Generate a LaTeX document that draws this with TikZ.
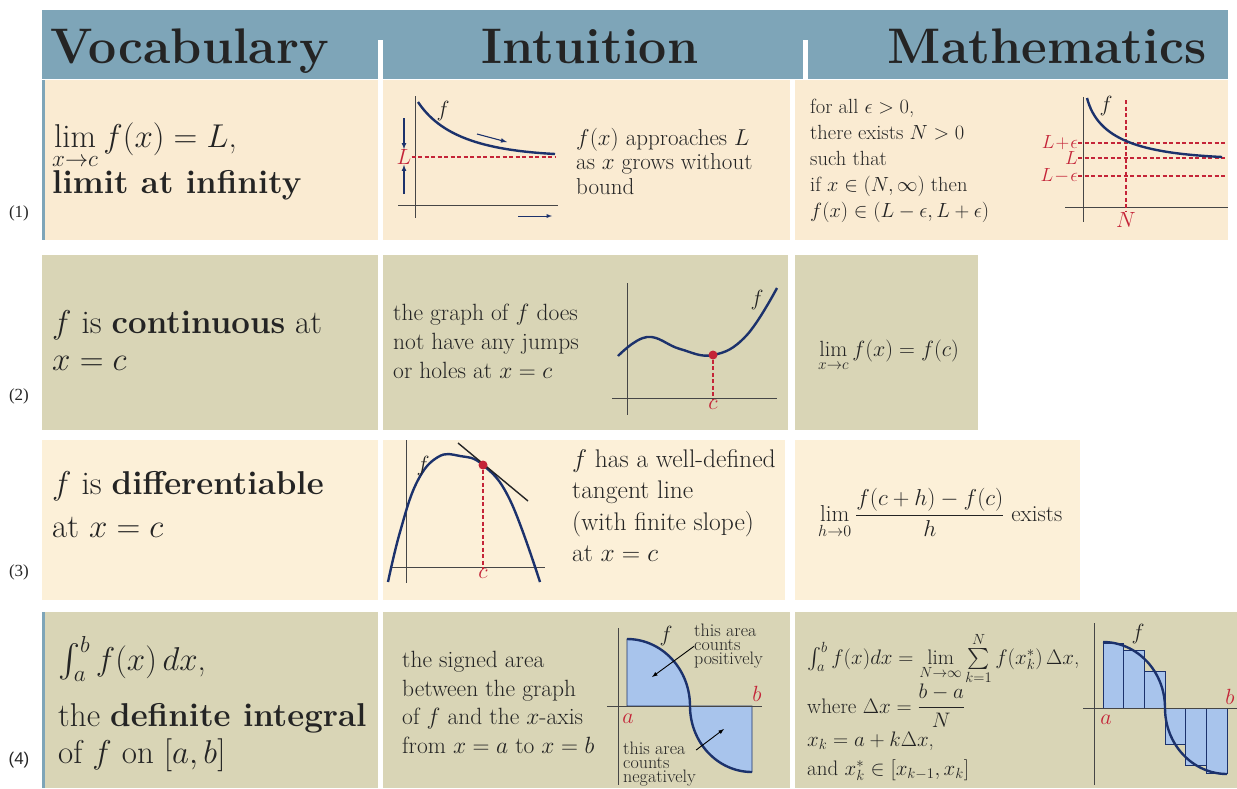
\RequirePackage{fix-cm}
\documentclass[tikz,border=0pt]{standalone}
\usepackage{amsmath,amssymb}
\usepackage{fontspec}
\newfontfamily\timesfont{Liberation Serif}
\newfontfamily\arialfont{Liberation Sans}
\usepackage{xcolor}
\usepackage{tikz}
\usetikzlibrary{calc}

\definecolor{headblue}{RGB}{126,165,184}
\definecolor{peach}{RGB}{250,235,210}
\definecolor{creamy}{RGB}{252,240,216}
\definecolor{khaki}{RGB}{217,213,182}
\definecolor{textink}{RGB}{36,36,36}
\definecolor{axisgray}{RGB}{70,70,70}
\definecolor{curveblue}{RGB}{28,50,108}
\definecolor{markred}{RGB}{196,36,56}
\definecolor{areablue}{RGB}{168,196,236}

\begin{document}
\begin{tikzpicture}[
    x=1pt, y=-1pt,
    >=latex,
    line width=0.45pt,
    every node/.style={inner sep=0pt, text=textink, font=\rmfamily\fontsize{22}{28}\selectfont},
    headtext/.style={anchor=base, font=\rmfamily\bfseries\fontsize{50}{56}\selectfont},
    vocabtext/.style={anchor=base west, font=\rmfamily\fontsize{33}{38}\selectfont},
    bodytext/.style={anchor=north west, align=left},
    rownum/.style={font=\timesfont\fontsize{17}{20}\selectfont},
    axis/.style={draw=axisgray, line width=1pt},
    graph/.style={draw=curveblue, line width=2.4pt},
    reddash/.style={draw=markred, dash pattern=on 4pt off 2.5pt, line width=1.3pt},
    redlabel/.style={text=markred},
    hint/.style={->, draw=curveblue, line width=1.1pt},
    note/.style={anchor=north west, align=left, font=\rmfamily\fontsize{18}{14}\selectfont},
    area/.style={fill=areablue, draw=curveblue, line width=0.7pt},
    dot/.style={circle, fill=markred, minimum size=9pt}
  ]
    \useasboundingbox (0,0) rectangle (1237,788);

    % header band
    \fill[headblue] (42,10) rectangle (1228,79);
    \fill[white] (378,40) rectangle (383,79);
    \fill[white] (803,40) rectangle (808,79);
    \node[headtext] (hvocab) at (190,63) {Vocabulary};
    \node[headtext] (hintu) at (590,63) {Intuition};
    \node[headtext] (hmath) at (1047,63) {Mathematics};

    % cells
    \fill[peach] (42,80) rectangle (378,240);
    \fill[peach] (383,80) rectangle (790,240);
    \fill[peach] (795,80) rectangle (1228,240);
    \fill[headblue] (42,80) rectangle (45,240);
    \fill[khaki] (42,255) rectangle (378,430);
    \fill[khaki] (383,255) rectangle (788,430);
    \fill[khaki] (795,255) rectangle (978,430);
    \fill[creamy] (42,440) rectangle (378,600);
    \fill[creamy] (383,440) rectangle (785,600);
    \fill[creamy] (795,440) rectangle (1080,600);
    \fill[khaki] (42,612) rectangle (378,788);
    \fill[khaki] (383,612) rectangle (790,788);
    \fill[khaki] (795,612) rectangle (1237,788);
    \fill[headblue] (42,612) rectangle (45,788);

    % row numbers
    \node[rownum] (num1) at (19,213) {(1)};
    \node[rownum] (num2) at (19,396) {(2)};
    \node[rownum] (num3) at (19,572) {(3)};
    \node[rownum, font=\arialfont\fontsize{17}{20}\selectfont] (num4) at (19,760) {(4)};

    % (1) limit at infinity
    \node[vocabtext] (limdef) at (52,147) {$\lim\limits_{x\to c} f(x) = L$,};
    \node[vocabtext] (limname) at (52,193) {\textbf{limit at infinity}};

    \draw[axis] (415,96) -- (415,218);
    \draw[axis] (398,205) -- (558,205);
    \draw[graph] (418,102) .. controls (440,135) and (480,150) .. (555,154);
    \node[redlabel] (Lmark) at (404,157) {$L$};
    \draw[reddash] (Lmark.east) -- (555,157);
    \coordinate (Ltop) at (404,118);
    \coordinate (Lbot) at (404,194);
    \draw[hint] (Ltop) -- (Lmark.north);
    \draw[hint] (Lbot) -- (Lmark.south);
    \draw[hint] (477,134) -- (507,142);
    \draw[hint, line width=0.9pt] (518,216) -- (552,216);
    \node (fone) at (443,111) {$f$};
    \node[bodytext, font=\rmfamily\fontsize{23}{24.5}\selectfont] (limintu) at (576,128)
      {$f(x)$ approaches $L$\\as $x$ grows without\\bound};

    \node[bodytext, font=\rmfamily\fontsize{20.5}{26}\selectfont] (limmath) at (810,99)
      {for all $\epsilon > 0$,\\there exists $N > 0$\\such that\\if $x \in (N, \infty)$ then\\$f(x) \in (L - \epsilon, L + \epsilon)$};
    \draw[axis] (1083,97) -- (1083,222);
    \draw[axis] (1065,207) -- (1228,207);
    \node[redlabel, anchor=east, font=\fontsize{19}{22}\selectfont] (Lup) at (1078,143) {$L\!+\!\epsilon$};
    \node[redlabel, anchor=east, font=\fontsize{19}{22}\selectfont] (Lmid) at (1078,158) {$L$};
    \node[redlabel, anchor=east, font=\fontsize{19}{22}\selectfont] (Llow) at (1078,176) {$L\!-\!\epsilon$};
    \draw[reddash] (Lup.east) -- (1226,143);
    \draw[reddash] (Lmid.east) -- (1226,158);
    \draw[reddash] (Llow.east) -- (1226,176);
    \node[redlabel, anchor=north] (Nmark) at (1126,212) {$N$};
    \draw[reddash] (1126,100) -- (Nmark.north);
    \draw[graph] (1087,98) .. controls (1098,140) and (1140,153) .. (1222,157);
    \node (ftwo) at (1106,106) {$f$};

    % (2) continuity
    \node[vocabtext] (contdef) at (52,333) {$f$ is \textbf{continuous} at};
    \node[vocabtext] (contvar) at (52,370) {$x = c$};
    \node[bodytext, font=\rmfamily\fontsize{23.5}{29}\selectfont] (contintu) at (393,304)
      {the graph of $f$ does\\not have any jumps\\or holes at $x = c$};
    \draw[axis] (627,283) -- (627,415);
    \draw[axis] (612,398) -- (777,398);
    \draw[graph] plot[smooth, tension=0.7] coordinates {(618,356) (647,337) (680,349) (713,355) (746,336) (777,288)};
    \node[dot] (cpoint) at (713,355) {};
    \node[redlabel, anchor=north] (cmark) at (713,400) {$c$};
    \draw[reddash] (cpoint) -- (cmark.north);
    \node (fthree) at (757,300) {$f$};
    \node[anchor=base west] (contmath) at (818,356) {$\lim\limits_{x\to c} f(x) = f(c)$};

    % (3) differentiability
    \node[vocabtext] (diffdef) at (52,494) {$f$ is \textbf{differentiable}};
    \node[vocabtext] (diffvar) at (52,537) {at $x = c$};
    \draw[axis] (406,440) -- (406,583);
    \draw[axis] (390,567) -- (545,567);
    \draw[graph] plot[smooth, tension=0.7] coordinates {(388,582) (400,532) (417,482) (438,457) (460,456) (483,465) (510,500) (540,582)};
    \coordinate (tanstart) at (458,443);
    \coordinate (tanend) at (528,501);
    \draw[draw=textink, line width=1.4pt] (tanstart) -- (tanend);
    \node[dot] (dpoint) at (483,465) {};
    \node[redlabel, anchor=north] (dmark) at (483,569) {$c$};
    \draw[reddash] (dpoint) -- (dmark.north);
    \node (ffour) at (423,466) {$f$};
    \node[bodytext, font=\rmfamily\fontsize{25.5}{31.5}\selectfont] (diffintu) at (572,449)
      {$f$ has a well-defined\\tangent line\\(with finite slope)\\at $x = c$};
    \node[anchor=base west, font=\rmfamily\fontsize{23}{28}\selectfont] (diffmath) at (818,521)
      {$\lim\limits_{h\to 0} \dfrac{f(c + h) - f(c)}{h}$ exists};

    % (4) definite integral
    \node[vocabtext] (intdef) at (58,670) {$\int_a^b f(x)\,dx$,};
    \node[vocabtext] (intname) at (58,726) {the \textbf{definite integral}};
    \node[vocabtext] (intrange) at (58,763) {of $f$ on $[a, b]$};
    \node[bodytext, font=\rmfamily\fontsize{23.5}{28.5}\selectfont] (intintu) at (402,651)
      {the signed area\\between the graph\\of $f$ and the $x$-axis\\from $x = a$ to $x = b$};
    \draw[area] (627,706) -- (627,639) .. controls (661.8,639) and (690,669) .. (690,706)
      .. controls (690,742.5) and (717.8,772) .. (752,772) -- (752,706) -- cycle;
    \draw[axis] (618,628) -- (618,785);
    \draw[axis] (607,706) -- (762,706);
    \draw[graph] (627,639) .. controls (661.8,639) and (690,669) .. (690,706)
      .. controls (690,742.5) and (717.8,772) .. (752,772);
    \node (ffive) at (666,636) {$f$};
    \node[redlabel] (amark) at (628,719) {$a$};
    \node[redlabel] (bmark) at (757,694) {$b$};
    \node[note] (posnote) at (694,624) {this area\\counts\\positively};
    \node[note] (negnote) at (623,742) {this area\\counts\\negatively};
    \coordinate (posTip) at (652,677);
    \coordinate (negTip) at (724,729);
    \draw[->, line width=0.9pt] (posnote.west) -- (posTip);
    \draw[->, line width=0.9pt] ([yshift=-8pt]negnote.north east) -- (negTip);

    \node[anchor=base west, font=\rmfamily\fontsize{21}{26}\selectfont] (sumdef) at (807,664)
      {$\int_a^b f(x)dx = \lim\limits_{N\to\infty} \sum\limits_{k=1}^{N} f(x_k^*)\,\Delta x$,};
    \node[anchor=base west, font=\rmfamily\fontsize{21}{26}\selectfont] (sumstep) at (807,713)
      {where $\Delta x = \dfrac{b - a}{N}$};
    \node[anchor=base west, font=\rmfamily\fontsize{21}{26}\selectfont] (sumnode) at (807,746)
      {$x_k = a + k\Delta x$,};
    \node[anchor=base west, font=\rmfamily\fontsize{21}{26}\selectfont] (sumpick) at (807,775)
      {and $x_k^* \in [x_{k-1}, x_k]$};
    \draw[area] (1103,708) rectangle (1123.67,642.9);
    \draw[area] (1123.67,708) rectangle (1144.33,650.8);
    \draw[area] (1144.33,708) rectangle (1165,671.5);
    \draw[area] (1165,708) rectangle (1185.67,744.5);
    \draw[area] (1185.67,708) rectangle (1206.33,765.2);
    \draw[area] (1206.33,708) rectangle (1227,773.1);
    \draw[axis] (1094,623) -- (1094,785);
    \draw[axis] (1083,708) -- (1237,708);
    \draw[graph] (1103,642) .. controls (1137.2,642) and (1165,671.5) .. (1165,708)
      .. controls (1165,744.5) and (1192.8,774) .. (1227,774);
    \node (fsix) at (1138,634) {$f$};
    \node[redlabel] (asum) at (1106,720) {$a$};
    \node[redlabel] (bsum) at (1230,697) {$b$};
  \end{tikzpicture}
\end{document}
